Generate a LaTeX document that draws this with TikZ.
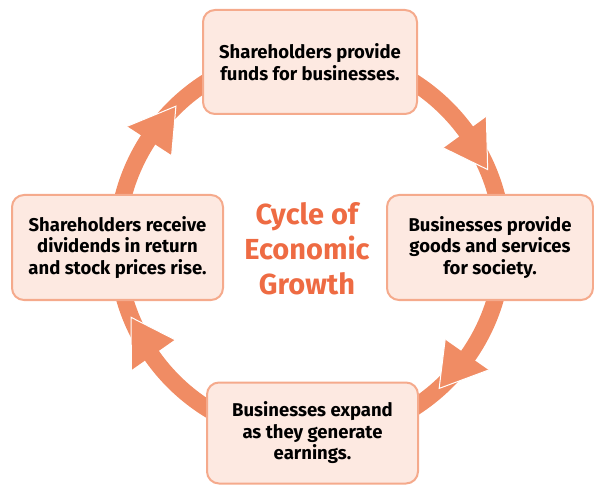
\documentclass[tikz,border=0pt]{standalone}
\usepackage{fontspec}
\setmainfont{Fira Sans}
\usetikzlibrary{calc}
\definecolor{ringorange}{HTML}{F08C64}
\definecolor{boxfill}{HTML}{FDE9E1}
\definecolor{boxline}{HTML}{F5AA8C}
\definecolor{titleorange}{HTML}{EE6B43}

\begin{document}
\begin{tikzpicture}[x=1pt, y=1pt,
  stagebox/.style={draw=boxline, fill=boxfill, line width=2pt, rounded corners=12pt,
    align=center, inner sep=0pt, font=\bfseries\fontsize{18.5}{21.5}\selectfont},
  ring/.style={draw=ringorange, line width=17pt}]
  \useasboundingbox (0,0) rectangle (594,485);

  % Ring
  \coordinate (ctr) at (310,240);
  \draw[ring] (ctr) circle (193pt);

  % Arrow heads
  \foreach \ang in {23,-48,-158,134}{
    \coordinate (tip) at ($(ctr)+(\ang:193pt)$);
    \coordinate (outer) at ($(ctr)+(\ang+13:218pt)$);
    \coordinate (inner) at ($(ctr)+(\ang+13:165pt)$);
    \fill[ringorange] (outer) -- (tip) -- (inner) -- cycle;
    \draw[white, line width=1pt] (outer) -- (tip) -- (inner);
  }

  % Stages
  \node[stagebox, minimum width=214pt, minimum height=104pt] (funds) at (310,423)
    {Shareholders provide\\funds for businesses.};
  \node[stagebox, minimum width=206pt, minimum height=105pt] (goods) at (490,237.5)
    {Businesses provide\\goods and services\\for society.};
  \node[stagebox, minimum width=211pt, minimum height=101pt] (expand) at (312.5,52)
    {Businesses expand\\as they generate\\earnings.};
  \node[stagebox, minimum width=211pt, minimum height=105pt] (dividends) at (117.5,237.5)
    {Shareholders receive\\dividends in return\\and stock prices rise.};

  % Title
  \node[text=titleorange, align=center, font=\bfseries\fontsize{29}{35}\selectfont] (title) at (307,236)
    {Cycle of\\Economic\\Growth};
\end{tikzpicture}
\end{document}
